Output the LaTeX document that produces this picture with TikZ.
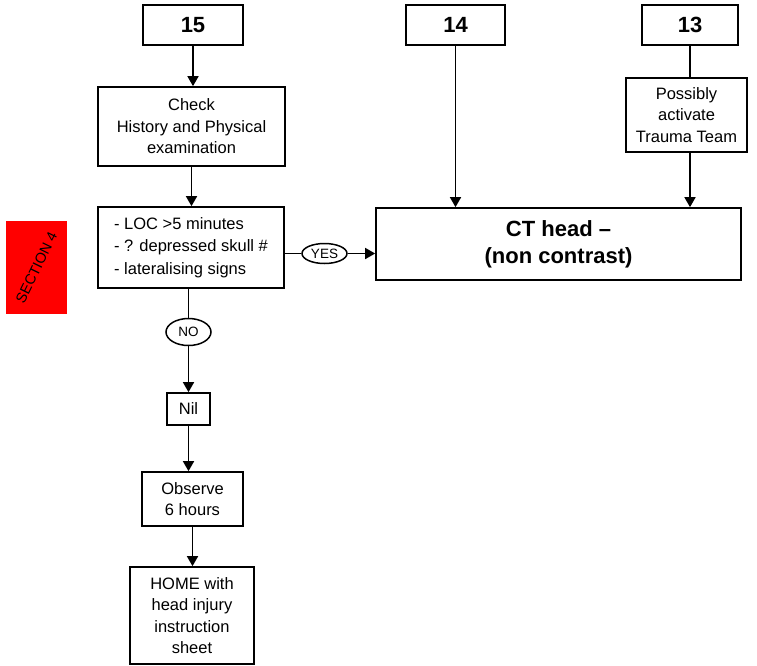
\documentclass[tikz,border=0pt]{standalone}
\usepackage{fontspec}
\setmainfont{Liberation Sans}
\usetikzlibrary{arrows.meta,shapes.geometric}
\begin{document}
\begin{tikzpicture}[x=1pt,y=-1pt,
  box/.style={draw,line width=1.7pt,inner sep=0pt,align=center,font=\fontsize{16.5}{21.5}\selectfont},
  numbox/.style={box,minimum width=98pt,minimum height=40pt,font=\fontsize{22}{26}\selectfont\bfseries},
  lab/.style={draw,ellipse,line width=1.5pt,inner sep=0pt,font=\fontsize{13.5}{16}\selectfont},
  conn/.style={line width=1.7pt},
  arr/.style={conn,-{Triangle[length=10pt,width=11pt]}}]
\useasboundingbox (0,0) rectangle (757,665);
% section tag
\node[fill=red,minimum width=61pt,minimum height=93pt,inner sep=0pt] (sec) at (36.5,267.5) {};
\node[rotate=64,font=\fontsize{14.5}{16}\selectfont,inner sep=0pt] (sectxt) at (sec.center) {SECTION 4};
% number boxes
\node[numbox,minimum width=100pt] (n15) at (193,25) {15};
\node[numbox,minimum width=99pt] (n14) at (455.5,25) {14};
\node[numbox,minimum width=96pt] (n13) at (690,25) {13};
% main boxes
\node[box,minimum width=187pt,minimum height=79pt] (check) at (191.5,126.5) {Check\\History and Physical\\examination};
\node[box,minimum width=121pt,minimum height=74pt] (poss) at (686.5,115) {Possibly\\activate\\Trauma Team};
\node[box,minimum width=186pt,minimum height=81pt,align=left,font=\fontsize{16.5}{22.5}\selectfont] (crit) at (191,247.5) {- LOC >5 minutes\\- ? depressed skull \#\\- lateralising signs};
\node[box,minimum width=365pt,minimum height=72pt,font=\fontsize{22}{27}\selectfont\bfseries] (ct) at (558.5,244) {CT head --\\(non contrast)};
\node[lab,minimum width=45pt,minimum height=20pt] (yes) at (324.5,253.5) {YES};
\node[lab,minimum width=45pt,minimum height=27pt] (no) at (188.5,332) {NO};
\node[box,minimum width=43pt,minimum height=32pt] (nil) at (188.5,409) {Nil};
\node[box,minimum width=101pt,minimum height=54pt] (obs) at (192.5,499) {Observe\hspace{14pt}\\6 hours\hspace{5pt}};
\node[box,minimum width=124pt,minimum height=97pt] (home) at (192,615.5) {HOME with\\head injury\\instruction\\sheet};
% connectors
\draw[arr] (n15.south) -- (n15.south |- check.north);
\draw[arr] (n14.south) -- (n14.south |- ct.north);
\draw[conn] (n13.south) -- (n13.south |- poss.north);
\draw[arr] (n13.south |- poss.south) -- (n13.south |- ct.north);
\draw[arr] (check.south) -- (check.south |- crit.north);
\draw[conn] (crit.east |- yes.west) -- (yes.west);
\draw[arr] (yes.east) -- (yes.east -| ct.west);
\draw[conn] (no.north |- crit.south) -- (no.north);
\draw[arr] (no.south) -- (no.south |- nil.north);
\draw[arr] (nil.south) -- (nil.south |- obs.north);
\draw[arr] (obs.south) -- (obs.south |- home.north);
\end{tikzpicture}
\end{document}
